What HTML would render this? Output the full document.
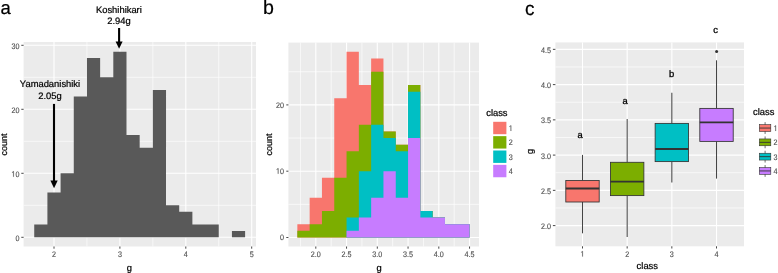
<!DOCTYPE html>
<html><head><meta charset="utf-8"><style>
html,body{margin:0;padding:0;background:#fff;width:778px;height:273px;overflow:hidden;}
svg{display:block;will-change:transform;text-rendering:geometricPrecision;}
text{font-family:"Liberation Sans",sans-serif;}
</style></head>
<body><div>
<svg width="778" height="273" viewBox="0 0 778 273">
<g>
<rect x="0" y="0" width="778" height="273" fill="#fff"/>
<text x="0.5" y="14.3" font-size="18.5" fill="#000" text-anchor="start" stroke="#000" stroke-width="0.2">a</text>
<text x="263.1" y="14.4" font-size="19.6" fill="#000" text-anchor="start" stroke="#000" stroke-width="0.2">b</text>
<text x="524.9" y="14.8" font-size="19" fill="#000" text-anchor="start" stroke="#000" stroke-width="0.2">c</text>
<rect x="23.6" y="42" width="232.4" height="204.5" fill="#EBEBEB"/>
<line x1="23.6" y1="205.3" x2="256" y2="205.3" stroke="#FFFFFF" stroke-width="0.65"/>
<line x1="23.6" y1="141.3" x2="256" y2="141.3" stroke="#FFFFFF" stroke-width="0.65"/>
<line x1="23.6" y1="77.3" x2="256" y2="77.3" stroke="#FFFFFF" stroke-width="0.65"/>
<line x1="86.95" y1="42" x2="86.95" y2="246.5" stroke="#FFFFFF" stroke-width="0.65"/>
<line x1="152.85" y1="42" x2="152.85" y2="246.5" stroke="#FFFFFF" stroke-width="0.65"/>
<line x1="218.75" y1="42" x2="218.75" y2="246.5" stroke="#FFFFFF" stroke-width="0.65"/>
<line x1="23.6" y1="237.3" x2="256" y2="237.3" stroke="#FFFFFF" stroke-width="1.1"/>
<line x1="23.6" y1="173.3" x2="256" y2="173.3" stroke="#FFFFFF" stroke-width="1.1"/>
<line x1="23.6" y1="109.3" x2="256" y2="109.3" stroke="#FFFFFF" stroke-width="1.1"/>
<line x1="23.6" y1="45.3" x2="256" y2="45.3" stroke="#FFFFFF" stroke-width="1.1"/>
<line x1="54" y1="42" x2="54" y2="246.5" stroke="#FFFFFF" stroke-width="1.1"/>
<line x1="119.9" y1="42" x2="119.9" y2="246.5" stroke="#FFFFFF" stroke-width="1.1"/>
<line x1="185.8" y1="42" x2="185.8" y2="246.5" stroke="#FFFFFF" stroke-width="1.1"/>
<line x1="251.7" y1="42" x2="251.7" y2="246.5" stroke="#FFFFFF" stroke-width="1.1"/>
<path d="M34.23 224.5H47.41V237.3H34.23ZM47.41 192.5H60.59V237.3H47.41ZM60.59 173.3H73.77V237.3H60.59ZM73.77 96.5H86.95V237.3H73.77ZM86.95 58.1H100.13V237.3H86.95ZM100.13 77.3H113.31V237.3H100.13ZM113.31 51.7H126.49V237.3H113.31ZM126.49 134.9H139.67V237.3H126.49ZM139.67 147.7H152.85V237.3H139.67ZM152.85 90.1H166.03V237.3H152.85ZM166.03 205.3H179.21V237.3H166.03ZM179.21 211.7H192.39V237.3H179.21ZM192.39 224.5H205.57V237.3H192.39ZM205.57 224.5H218.75V237.3H205.57ZM231.93 230.9H245.11V237.3H231.93Z" fill="#595959"/>
<line x1="21.3" y1="237.3" x2="23.6" y2="237.3" stroke="#333333" stroke-width="0.9"/>
<text transform="translate(19.4 240.8) scale(1 1.1)" font-size="7.2" fill="#4D4D4D" text-anchor="end" stroke="#4D4D4D" stroke-width="0.12">0</text>
<line x1="21.3" y1="173.3" x2="23.6" y2="173.3" stroke="#333333" stroke-width="0.9"/>
<path transform="translate(11.39 176.8) scale(0.003516 -0.003867)" d="M515 0L515 1237L197 1010L197 1180L530 1409L696 1409L696 0Z" fill="#4D4D4D" stroke="#4D4D4D" stroke-width="34.13"/>
<text transform="translate(15.4 176.8) scale(1 1.1)" font-size="7.2" fill="#4D4D4D" stroke="#4D4D4D" stroke-width="0.12">0</text>
<line x1="21.3" y1="109.3" x2="23.6" y2="109.3" stroke="#333333" stroke-width="0.9"/>
<text transform="translate(19.4 112.8) scale(1 1.1)" font-size="7.2" fill="#4D4D4D" text-anchor="end" stroke="#4D4D4D" stroke-width="0.12">20</text>
<line x1="21.3" y1="45.3" x2="23.6" y2="45.3" stroke="#333333" stroke-width="0.9"/>
<text transform="translate(19.4 48.8) scale(1 1.1)" font-size="7.2" fill="#4D4D4D" text-anchor="end" stroke="#4D4D4D" stroke-width="0.12">30</text>
<line x1="54" y1="246.5" x2="54" y2="248.7" stroke="#333333" stroke-width="0.9"/>
<text transform="translate(54 256.6) scale(1 1.1)" font-size="7.2" fill="#4D4D4D" text-anchor="middle" stroke="#4D4D4D" stroke-width="0.12">2</text>
<line x1="119.9" y1="246.5" x2="119.9" y2="248.7" stroke="#333333" stroke-width="0.9"/>
<text transform="translate(119.9 256.6) scale(1 1.1)" font-size="7.2" fill="#4D4D4D" text-anchor="middle" stroke="#4D4D4D" stroke-width="0.12">3</text>
<line x1="185.8" y1="246.5" x2="185.8" y2="248.7" stroke="#333333" stroke-width="0.9"/>
<text transform="translate(185.8 256.6) scale(1 1.1)" font-size="7.2" fill="#4D4D4D" text-anchor="middle" stroke="#4D4D4D" stroke-width="0.12">4</text>
<line x1="251.7" y1="246.5" x2="251.7" y2="248.7" stroke="#333333" stroke-width="0.9"/>
<text transform="translate(251.7 256.6) scale(1 1.1)" font-size="7.2" fill="#4D4D4D" text-anchor="middle" stroke="#4D4D4D" stroke-width="0.12">5</text>
<text x="129.45" y="270.6" font-size="9.4" fill="#000" text-anchor="middle" stroke="#000" stroke-width="0.22">g</text>
<text x="0" y="0" font-size="9" fill="#000" stroke="#000" stroke-width="0.22" text-anchor="middle" transform="translate(6.5,144.4) rotate(-90)">count</text>
<text x="50" y="87.4" font-size="9.4" fill="#000" text-anchor="middle" stroke="#000" stroke-width="0.22">Yamadanishiki</text>
<text x="50" y="98.6" font-size="9.4" fill="#000" text-anchor="middle" stroke="#000" stroke-width="0.22">2.05g</text>
<line x1="54" y1="103.9" x2="54" y2="182" stroke="#000" stroke-width="2.1"/>
<polygon points="50.4,180.5 57.7,180.5 54.05,188.3" fill="#000"/>
<text x="118.9" y="12.9" font-size="9.4" fill="#000" text-anchor="middle" stroke="#000" stroke-width="0.22">Koshihikari</text>
<text x="119" y="23.6" font-size="9.4" fill="#000" text-anchor="middle" stroke="#000" stroke-width="0.22">2.94g</text>
<line x1="119.1" y1="28" x2="119.1" y2="43" stroke="#000" stroke-width="2.1"/>
<polygon points="115.6,41.5 122.6,41.5 119.1,48.8" fill="#000"/>
<rect x="288.4" y="42.6" width="190.6" height="203.9" fill="#EBEBEB"/>
<line x1="288.4" y1="204.35" x2="479" y2="204.35" stroke="#FFFFFF" stroke-width="0.65"/>
<line x1="288.4" y1="138.05" x2="479" y2="138.05" stroke="#FFFFFF" stroke-width="0.65"/>
<line x1="288.4" y1="71.75" x2="479" y2="71.75" stroke="#FFFFFF" stroke-width="0.65"/>
<line x1="300.43" y1="42.6" x2="300.43" y2="246.5" stroke="#FFFFFF" stroke-width="0.65"/>
<line x1="331.18" y1="42.6" x2="331.18" y2="246.5" stroke="#FFFFFF" stroke-width="0.65"/>
<line x1="361.93" y1="42.6" x2="361.93" y2="246.5" stroke="#FFFFFF" stroke-width="0.65"/>
<line x1="392.68" y1="42.6" x2="392.68" y2="246.5" stroke="#FFFFFF" stroke-width="0.65"/>
<line x1="423.43" y1="42.6" x2="423.43" y2="246.5" stroke="#FFFFFF" stroke-width="0.65"/>
<line x1="454.18" y1="42.6" x2="454.18" y2="246.5" stroke="#FFFFFF" stroke-width="0.65"/>
<line x1="288.4" y1="237.5" x2="479" y2="237.5" stroke="#FFFFFF" stroke-width="1.1"/>
<line x1="288.4" y1="171.2" x2="479" y2="171.2" stroke="#FFFFFF" stroke-width="1.1"/>
<line x1="288.4" y1="104.9" x2="479" y2="104.9" stroke="#FFFFFF" stroke-width="1.1"/>
<line x1="315.8" y1="42.6" x2="315.8" y2="246.5" stroke="#FFFFFF" stroke-width="1.1"/>
<line x1="346.55" y1="42.6" x2="346.55" y2="246.5" stroke="#FFFFFF" stroke-width="1.1"/>
<line x1="377.3" y1="42.6" x2="377.3" y2="246.5" stroke="#FFFFFF" stroke-width="1.1"/>
<line x1="408.05" y1="42.6" x2="408.05" y2="246.5" stroke="#FFFFFF" stroke-width="1.1"/>
<line x1="438.8" y1="42.6" x2="438.8" y2="246.5" stroke="#FFFFFF" stroke-width="1.1"/>
<line x1="469.55" y1="42.6" x2="469.55" y2="246.5" stroke="#FFFFFF" stroke-width="1.1"/>
<path d="M297.35 224.24H309.65V237.5H297.35ZM309.65 197.72H321.95V237.5H309.65ZM321.95 177.83H334.25V237.5H321.95ZM334.25 98.27H346.55V237.5H334.25ZM346.55 51.86H358.85V237.5H346.55ZM358.85 85.01H371.15V237.5H358.85ZM371.15 58.49H383.45V237.5H371.15ZM383.45 131.42H395.75V237.5H383.45ZM395.75 144.68H408.05V237.5H395.75ZM408.05 85.01H420.35V237.5H408.05ZM420.35 210.98H432.65V237.5H420.35ZM432.65 217.61H444.95V237.5H432.65ZM444.95 224.24H457.25V237.5H444.95ZM457.25 224.24H469.55V237.5H457.25Z" fill="#F8766D"/>
<path d="M297.35 230.87H309.65V237.5H297.35ZM309.65 224.24H321.95V237.5H309.65ZM321.95 210.98H334.25V237.5H321.95ZM334.25 177.83H346.55V237.5H334.25ZM346.55 151.31H358.85V237.5H346.55ZM358.85 124.79H371.15V237.5H358.85ZM371.15 71.75H383.45V237.5H371.15ZM383.45 131.42H395.75V237.5H383.45ZM395.75 144.68H408.05V237.5H395.75ZM408.05 85.01H420.35V237.5H408.05ZM420.35 210.98H432.65V237.5H420.35ZM432.65 217.61H444.95V237.5H432.65ZM444.95 224.24H457.25V237.5H444.95ZM457.25 224.24H469.55V237.5H457.25Z" fill="#7CAE00"/>
<path d="M346.55 217.61H358.85V237.5H346.55ZM358.85 171.2H371.15V237.5H358.85ZM371.15 124.79H383.45V237.5H371.15ZM383.45 138.05H395.75V237.5H383.45ZM395.75 151.31H408.05V237.5H395.75ZM408.05 91.64H420.35V237.5H408.05ZM420.35 210.98H432.65V237.5H420.35ZM432.65 217.61H444.95V237.5H432.65ZM444.95 224.24H457.25V237.5H444.95ZM457.25 224.24H469.55V237.5H457.25Z" fill="#00BFC4"/>
<path d="M346.55 230.87H358.85V237.5H346.55ZM358.85 217.61H371.15V237.5H358.85ZM371.15 197.72H383.45V237.5H371.15ZM383.45 171.2H395.75V237.5H383.45ZM395.75 197.72H408.05V237.5H395.75ZM408.05 138.05H420.35V237.5H408.05ZM420.35 217.61H432.65V237.5H420.35ZM432.65 217.61H444.95V237.5H432.65ZM444.95 224.24H457.25V237.5H444.95ZM457.25 224.24H469.55V237.5H457.25Z" fill="#C77CFF"/>
<line x1="286.3" y1="237.5" x2="288.4" y2="237.5" stroke="#333333" stroke-width="0.9"/>
<text transform="translate(284 240.1) scale(1 1.1)" font-size="7.2" fill="#4D4D4D" text-anchor="end" stroke="#4D4D4D" stroke-width="0.12">0</text>
<line x1="286.3" y1="171.2" x2="288.4" y2="171.2" stroke="#333333" stroke-width="0.9"/>
<path transform="translate(275.99 173.8) scale(0.003516 -0.003867)" d="M515 0L515 1237L197 1010L197 1180L530 1409L696 1409L696 0Z" fill="#4D4D4D" stroke="#4D4D4D" stroke-width="34.13"/>
<text transform="translate(280 173.8) scale(1 1.1)" font-size="7.2" fill="#4D4D4D" stroke="#4D4D4D" stroke-width="0.12">0</text>
<line x1="286.3" y1="104.9" x2="288.4" y2="104.9" stroke="#333333" stroke-width="0.9"/>
<text transform="translate(284 107.5) scale(1 1.1)" font-size="7.2" fill="#4D4D4D" text-anchor="end" stroke="#4D4D4D" stroke-width="0.12">20</text>
<line x1="315.8" y1="246.5" x2="315.8" y2="248.7" stroke="#333333" stroke-width="0.9"/>
<text transform="translate(315.8 256.6) scale(1 1.1)" font-size="7.2" fill="#4D4D4D" text-anchor="middle" stroke="#4D4D4D" stroke-width="0.12">2.0</text>
<line x1="346.55" y1="246.5" x2="346.55" y2="248.7" stroke="#333333" stroke-width="0.9"/>
<text transform="translate(346.55 256.6) scale(1 1.1)" font-size="7.2" fill="#4D4D4D" text-anchor="middle" stroke="#4D4D4D" stroke-width="0.12">2.5</text>
<line x1="377.3" y1="246.5" x2="377.3" y2="248.7" stroke="#333333" stroke-width="0.9"/>
<text transform="translate(377.3 256.6) scale(1 1.1)" font-size="7.2" fill="#4D4D4D" text-anchor="middle" stroke="#4D4D4D" stroke-width="0.12">3.0</text>
<line x1="408.05" y1="246.5" x2="408.05" y2="248.7" stroke="#333333" stroke-width="0.9"/>
<text transform="translate(408.05 256.6) scale(1 1.1)" font-size="7.2" fill="#4D4D4D" text-anchor="middle" stroke="#4D4D4D" stroke-width="0.12">3.5</text>
<line x1="438.8" y1="246.5" x2="438.8" y2="248.7" stroke="#333333" stroke-width="0.9"/>
<text transform="translate(438.8 256.6) scale(1 1.1)" font-size="7.2" fill="#4D4D4D" text-anchor="middle" stroke="#4D4D4D" stroke-width="0.12">4.0</text>
<line x1="469.55" y1="246.5" x2="469.55" y2="248.7" stroke="#333333" stroke-width="0.9"/>
<text transform="translate(469.55 256.6) scale(1 1.1)" font-size="7.2" fill="#4D4D4D" text-anchor="middle" stroke="#4D4D4D" stroke-width="0.12">4.5</text>
<text x="379" y="270.6" font-size="9.4" fill="#000" text-anchor="middle" stroke="#000" stroke-width="0.22">g</text>
<text x="0" y="0" font-size="9" fill="#000" stroke="#000" stroke-width="0.22" text-anchor="middle" transform="translate(271.8,144.4) rotate(-90)">count</text>
<text x="486.2" y="116" font-size="9.4" fill="#000" text-anchor="start" stroke="#000" stroke-width="0.22">class</text>
<rect x="493.2" y="121.8" width="13.2" height="12.4" fill="#F8766D"/>
<path transform="translate(508.8 130.9) scale(0.003516 -0.003867)" d="M515 0L515 1237L197 1010L197 1180L530 1409L696 1409L696 0Z" fill="#4D4D4D" stroke="#4D4D4D" stroke-width="34.13"/>
<rect x="493.2" y="136.15" width="13.2" height="12.4" fill="#7CAE00"/>
<text transform="translate(508.8 145.25) scale(1 1.1)" font-size="7.2" fill="#4D4D4D" text-anchor="start" stroke="#4D4D4D" stroke-width="0.12">2</text>
<rect x="493.2" y="150.5" width="13.2" height="12.4" fill="#00BFC4"/>
<text transform="translate(508.8 159.6) scale(1 1.1)" font-size="7.2" fill="#4D4D4D" text-anchor="start" stroke="#4D4D4D" stroke-width="0.12">3</text>
<rect x="493.2" y="164.85" width="13.2" height="12.4" fill="#C77CFF"/>
<text transform="translate(508.8 173.95) scale(1 1.1)" font-size="7.2" fill="#4D4D4D" text-anchor="start" stroke="#4D4D4D" stroke-width="0.12">4</text>
<rect x="555.4" y="42.4" width="188.6" height="203.9" fill="#EBEBEB"/>
<line x1="555.4" y1="207.97" x2="744" y2="207.97" stroke="#FFFFFF" stroke-width="0.65"/>
<line x1="555.4" y1="172.72" x2="744" y2="172.72" stroke="#FFFFFF" stroke-width="0.65"/>
<line x1="555.4" y1="137.47" x2="744" y2="137.47" stroke="#FFFFFF" stroke-width="0.65"/>
<line x1="555.4" y1="102.22" x2="744" y2="102.22" stroke="#FFFFFF" stroke-width="0.65"/>
<line x1="555.4" y1="66.97" x2="744" y2="66.97" stroke="#FFFFFF" stroke-width="0.65"/>
<line x1="555.4" y1="225.6" x2="744" y2="225.6" stroke="#FFFFFF" stroke-width="1.1"/>
<line x1="555.4" y1="190.35" x2="744" y2="190.35" stroke="#FFFFFF" stroke-width="1.1"/>
<line x1="555.4" y1="155.1" x2="744" y2="155.1" stroke="#FFFFFF" stroke-width="1.1"/>
<line x1="555.4" y1="119.85" x2="744" y2="119.85" stroke="#FFFFFF" stroke-width="1.1"/>
<line x1="555.4" y1="84.6" x2="744" y2="84.6" stroke="#FFFFFF" stroke-width="1.1"/>
<line x1="555.4" y1="49.35" x2="744" y2="49.35" stroke="#FFFFFF" stroke-width="1.1"/>
<line x1="582.5" y1="42.4" x2="582.5" y2="246.3" stroke="#FFFFFF" stroke-width="1.1"/>
<line x1="627.17" y1="42.4" x2="627.17" y2="246.3" stroke="#FFFFFF" stroke-width="1.1"/>
<line x1="671.84" y1="42.4" x2="671.84" y2="246.3" stroke="#FFFFFF" stroke-width="1.1"/>
<line x1="716.51" y1="42.4" x2="716.51" y2="246.3" stroke="#FFFFFF" stroke-width="1.1"/>
<line x1="582.5" y1="154.9" x2="582.5" y2="180.5" stroke="#444" stroke-width="1.05"/>
<line x1="582.5" y1="202" x2="582.5" y2="233.3" stroke="#444" stroke-width="1.05"/>
<rect x="565.8" y="180.5" width="33.4" height="21.5" fill="#F8766D" stroke="#333333" stroke-width="0.85"/>
<line x1="565.8" y1="188.5" x2="599.2" y2="188.5" stroke="#333333" stroke-width="1.8"/>
<line x1="627.17" y1="118.9" x2="627.17" y2="162.3" stroke="#444" stroke-width="1.05"/>
<line x1="627.17" y1="195.6" x2="627.17" y2="237" stroke="#444" stroke-width="1.05"/>
<rect x="610.47" y="162.3" width="33.4" height="33.3" fill="#7CAE00" stroke="#333333" stroke-width="0.85"/>
<line x1="610.47" y1="181.6" x2="643.87" y2="181.6" stroke="#333333" stroke-width="1.8"/>
<line x1="671.84" y1="92.7" x2="671.84" y2="123.4" stroke="#444" stroke-width="1.05"/>
<line x1="671.84" y1="161.6" x2="671.84" y2="182.5" stroke="#444" stroke-width="1.05"/>
<rect x="655.14" y="123.4" width="33.4" height="38.2" fill="#00BFC4" stroke="#333333" stroke-width="0.85"/>
<line x1="655.14" y1="149" x2="688.54" y2="149" stroke="#333333" stroke-width="1.8"/>
<line x1="716.51" y1="60.3" x2="716.51" y2="108.4" stroke="#444" stroke-width="1.05"/>
<line x1="716.51" y1="141.4" x2="716.51" y2="178.6" stroke="#444" stroke-width="1.05"/>
<rect x="699.81" y="108.4" width="33.4" height="33" fill="#C77CFF" stroke="#333333" stroke-width="0.85"/>
<line x1="699.81" y1="122.4" x2="733.21" y2="122.4" stroke="#333333" stroke-width="1.8"/>
<circle cx="716.61" cy="51.4" r="1.5" fill="#333333"/>
<text x="580.2" y="137.7" font-size="9.4" fill="#000" text-anchor="middle" stroke="#000" stroke-width="0.3">a</text>
<text x="625.2" y="103.9" font-size="9.4" fill="#000" text-anchor="middle" stroke="#000" stroke-width="0.3">a</text>
<text x="671.7" y="76.9" font-size="9.4" fill="#000" text-anchor="middle" stroke="#000" stroke-width="0.3">b</text>
<text x="715.5" y="33.2" font-size="9.4" fill="#000" text-anchor="middle" stroke="#000" stroke-width="0.3">c</text>
<line x1="552.9" y1="225.6" x2="555.4" y2="225.6" stroke="#333333" stroke-width="0.9"/>
<text transform="translate(551 229.1) scale(1 1.1)" font-size="7.2" fill="#4D4D4D" text-anchor="end" stroke="#4D4D4D" stroke-width="0.12">2.0</text>
<line x1="552.9" y1="190.35" x2="555.4" y2="190.35" stroke="#333333" stroke-width="0.9"/>
<text transform="translate(551 193.85) scale(1 1.1)" font-size="7.2" fill="#4D4D4D" text-anchor="end" stroke="#4D4D4D" stroke-width="0.12">2.5</text>
<line x1="552.9" y1="155.1" x2="555.4" y2="155.1" stroke="#333333" stroke-width="0.9"/>
<text transform="translate(551 158.6) scale(1 1.1)" font-size="7.2" fill="#4D4D4D" text-anchor="end" stroke="#4D4D4D" stroke-width="0.12">3.0</text>
<line x1="552.9" y1="119.85" x2="555.4" y2="119.85" stroke="#333333" stroke-width="0.9"/>
<text transform="translate(551 123.35) scale(1 1.1)" font-size="7.2" fill="#4D4D4D" text-anchor="end" stroke="#4D4D4D" stroke-width="0.12">3.5</text>
<line x1="552.9" y1="84.6" x2="555.4" y2="84.6" stroke="#333333" stroke-width="0.9"/>
<text transform="translate(551 88.1) scale(1 1.1)" font-size="7.2" fill="#4D4D4D" text-anchor="end" stroke="#4D4D4D" stroke-width="0.12">4.0</text>
<line x1="552.9" y1="49.35" x2="555.4" y2="49.35" stroke="#333333" stroke-width="0.9"/>
<text transform="translate(551 52.85) scale(1 1.1)" font-size="7.2" fill="#4D4D4D" text-anchor="end" stroke="#4D4D4D" stroke-width="0.12">4.5</text>
<line x1="582.5" y1="246.3" x2="582.5" y2="248.5" stroke="#333333" stroke-width="0.9"/>
<path transform="translate(580.5 256.6) scale(0.003516 -0.003867)" d="M515 0L515 1237L197 1010L197 1180L530 1409L696 1409L696 0Z" fill="#4D4D4D" stroke="#4D4D4D" stroke-width="34.13"/>
<line x1="627.17" y1="246.3" x2="627.17" y2="248.5" stroke="#333333" stroke-width="0.9"/>
<text transform="translate(627.17 256.6) scale(1 1.1)" font-size="7.2" fill="#4D4D4D" text-anchor="middle" stroke="#4D4D4D" stroke-width="0.12">2</text>
<line x1="671.84" y1="246.3" x2="671.84" y2="248.5" stroke="#333333" stroke-width="0.9"/>
<text transform="translate(671.84 256.6) scale(1 1.1)" font-size="7.2" fill="#4D4D4D" text-anchor="middle" stroke="#4D4D4D" stroke-width="0.12">3</text>
<line x1="716.51" y1="246.3" x2="716.51" y2="248.5" stroke="#333333" stroke-width="0.9"/>
<text transform="translate(716.51 256.6) scale(1 1.1)" font-size="7.2" fill="#4D4D4D" text-anchor="middle" stroke="#4D4D4D" stroke-width="0.12">4</text>
<text x="647.3" y="268.8" font-size="9.4" fill="#000" text-anchor="middle" stroke="#000" stroke-width="0.22">class</text>
<text x="0" y="0" font-size="9.4" fill="#000" stroke="#000" stroke-width="0.22" text-anchor="middle" transform="translate(532.8,151.5) rotate(-90)">g</text>
<text x="753.1" y="114.8" font-size="9.4" fill="#000" text-anchor="start" stroke="#000" stroke-width="0.22">class</text>
<line x1="765.1" y1="122.15" x2="765.1" y2="133.95" stroke="#333333" stroke-width="0.7"/>
<rect x="759.4" y="124.65" width="11.4" height="6.8" fill="#F8766D" stroke="#333333" stroke-width="0.6"/>
<line x1="759.4" y1="128.05" x2="770.8" y2="128.05" stroke="#333333" stroke-width="0.9"/>
<path transform="translate(773.6 130.95) scale(0.003516 -0.003867)" d="M515 0L515 1237L197 1010L197 1180L530 1409L696 1409L696 0Z" fill="#4D4D4D" stroke="#4D4D4D" stroke-width="34.13"/>
<line x1="765.1" y1="136.45" x2="765.1" y2="148.25" stroke="#333333" stroke-width="0.7"/>
<rect x="759.4" y="138.95" width="11.4" height="6.8" fill="#7CAE00" stroke="#333333" stroke-width="0.6"/>
<line x1="759.4" y1="142.35" x2="770.8" y2="142.35" stroke="#333333" stroke-width="0.9"/>
<text transform="translate(773.6 145.25) scale(1 1.1)" font-size="7.2" fill="#4D4D4D" text-anchor="start" stroke="#4D4D4D" stroke-width="0.12">2</text>
<line x1="765.1" y1="150.75" x2="765.1" y2="162.55" stroke="#333333" stroke-width="0.7"/>
<rect x="759.4" y="153.25" width="11.4" height="6.8" fill="#00BFC4" stroke="#333333" stroke-width="0.6"/>
<line x1="759.4" y1="156.65" x2="770.8" y2="156.65" stroke="#333333" stroke-width="0.9"/>
<text transform="translate(773.6 159.55) scale(1 1.1)" font-size="7.2" fill="#4D4D4D" text-anchor="start" stroke="#4D4D4D" stroke-width="0.12">3</text>
<line x1="765.1" y1="165.05" x2="765.1" y2="176.85" stroke="#333333" stroke-width="0.7"/>
<rect x="759.4" y="167.55" width="11.4" height="6.8" fill="#C77CFF" stroke="#333333" stroke-width="0.6"/>
<line x1="759.4" y1="170.95" x2="770.8" y2="170.95" stroke="#333333" stroke-width="0.9"/>
<text transform="translate(773.6 173.85) scale(1 1.1)" font-size="7.2" fill="#4D4D4D" text-anchor="start" stroke="#4D4D4D" stroke-width="0.12">4</text>
</g>
</svg>
</div></body></html>
